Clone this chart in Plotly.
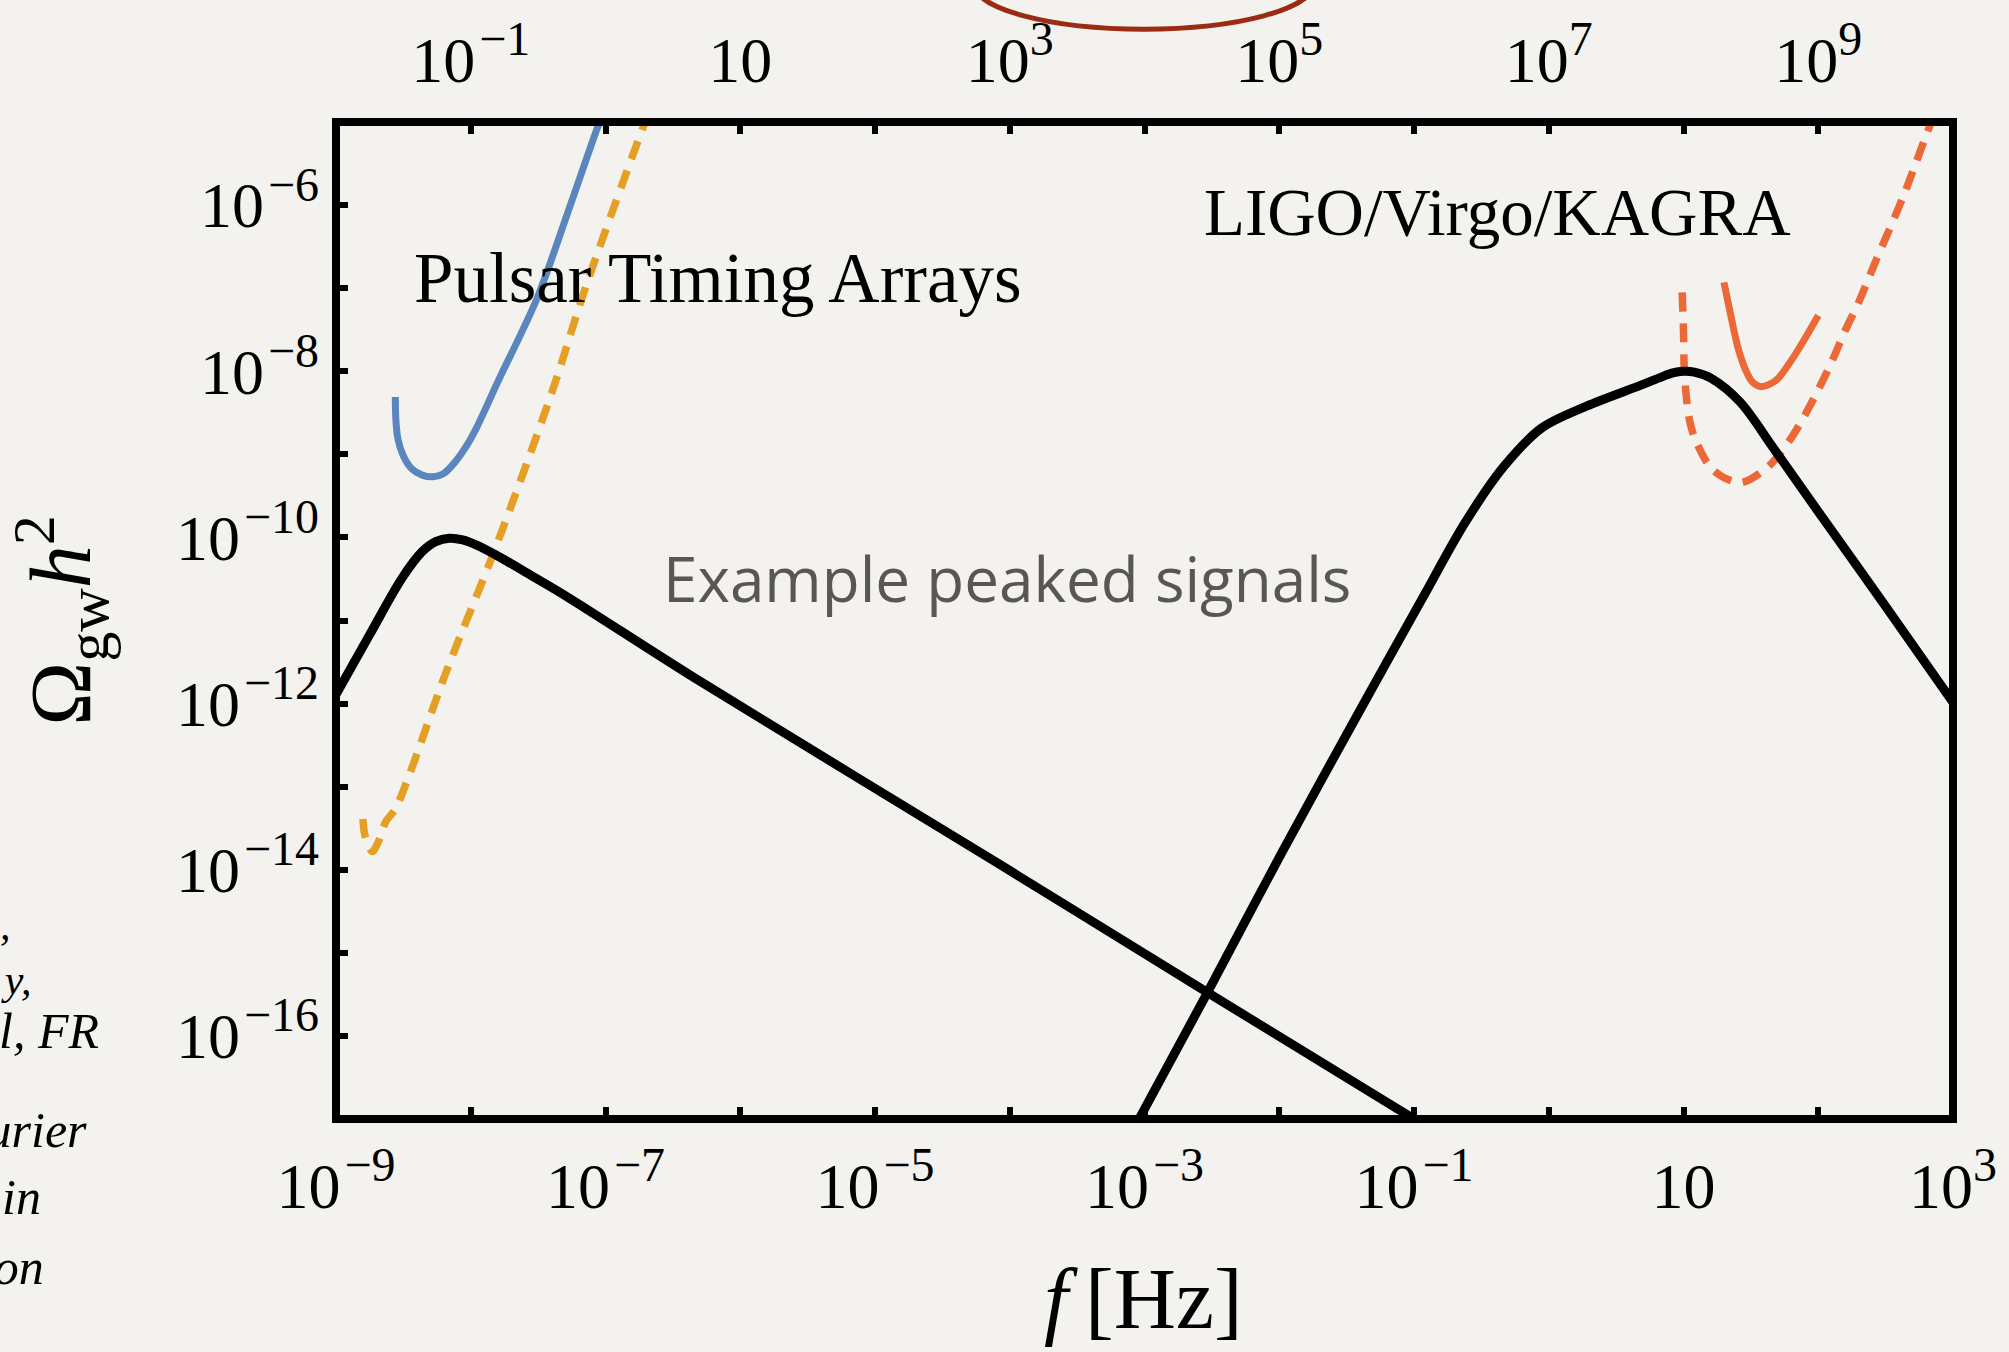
import plotly.graph_objects as go

# ---------------------------------------------------------------
# Curves, stored as log10(f / Hz) and log10(Omega_gw h^2)
# ---------------------------------------------------------------

# low-frequency example peaked signal
sig_lo_logf = [-9.00, -8.75, -8.51, -8.36, -8.26, -8.16, -8.06, -7.96,
               -7.77, -7.55, -7.27, -6.33, -4.08, -2.54, -0.98]
sig_lo_logom = [-11.89, -11.17, -10.49, -10.17, -10.05, -10.01, -10.03, -10.09,
                -10.25, -10.46, -10.73, -11.70, -13.93, -15.47, -17.02]

# high-frequency example peaked signal
sig_hi_logf = [-3.06, -2.54, -1.98, -1.37, -0.94, -0.62, -0.33, -0.05, 0.28, 0.68,
               0.82, 0.92, 1.00, 1.08, 1.20, 1.42, 1.67, 2.00, 2.50, 3.02]
sig_hi_logom = [-17.06, -15.50, -13.79, -11.99, -10.74, -9.82, -9.14, -8.68, -8.42, -8.17,
                -8.08, -8.02, -8.00, -8.01, -8.08, -8.37, -8.93, -9.69, -10.83, -12.03]

# pulsar timing arrays: current sensitivity (solid)
pta_logf = [-8.56, -8.555, -8.54, -8.50, -8.44, -8.36, -8.28, -8.20, -8.12,
            -8.04, -7.96, -7.80, -7.51, -7.28, -7.06, -7.03]
pta_logom = [-8.31, -8.60, -8.82, -9.02, -9.17, -9.25, -9.27, -9.23, -9.10,
             -8.92, -8.69, -8.13, -7.13, -6.09, -5.07, -4.95]

# pulsar timing arrays: future reach (dashed)
pta_future_logf = [-8.80, -8.79, -8.76, -8.73, -8.69, -8.63, -8.56, -8.47,
                   -8.185, -7.815, -7.395, -7.15, -6.72, -6.68]
pta_future_logom = [-13.39, -13.55, -13.72, -13.78, -13.68, -13.42, -13.27, -12.92,
                    -11.63, -10.12, -8.24, -7.00, -5.06, -4.90]

# LIGO/Virgo/KAGRA: current sensitivity (solid)
lvk_logf = [1.30, 1.35, 1.40, 1.44, 1.474, 1.511, 1.573, 1.647, 1.70, 1.84, 2.00]
lvk_logom = [-6.93, -7.32, -7.69, -7.90, -8.03, -8.13, -8.185, -8.15, -8.09, -7.77, -7.33]

# LIGO/Virgo/KAGRA: design sensitivity (dashed)
lvk_design_logf = [0.99, 1.00, 1.005, 1.02, 1.05, 1.10, 1.22, 1.42, 1.62, 1.78,
                   1.90, 2.01, 2.11, 2.20, 2.30, 2.42, 2.63, 2.81, 2.86]
lvk_design_logom = [-7.05, -7.51, -7.95, -8.29, -8.63, -8.87, -9.19, -9.34, -9.16, -8.85,
                    -8.53, -8.19, -7.85, -7.51, -7.17, -6.70, -5.90, -5.12, -4.92]

# axis decades
f_decades = list(range(-9, 4))          # bottom axis, Hz
top_decades = list(range(-2, 11))       # top axis
om_decades = list(range(-17, -4))       # vertical axis

# ---------------------------------------------------------------
W, H = 2009, 1352
L, R, T, B = 336, 1955.5, 121, 1119.5
PW, PH = R - L, B - T

BG = "#f3f2ee"
SERIF = "Liberation Serif"
SUP_STYLE = "font-size:48px"


def px(xp):
    return (xp - L) / PW


def py(yp):
    return (B - yp) / PH


def pow10(vals):
    return [10.0 ** v for v in vals]


def dec_label(k):
    if k == 1:
        return "10"
    if k < 0:
        exp = "\u200a\u2212%d" % (-k)
    else:
        exp = "%d" % k
    return '10<sup><span style="%s">%s</span></sup>' % (SUP_STYLE, exp)


fig = go.Figure()


def add_curve(lf, lo, color, width, dash="solid", xaxis="x"):
    fig.add_trace(go.Scatter(
        x=pow10(lf), y=pow10(lo), mode="lines", xaxis=xaxis,
        line=dict(color=color, width=width, dash=dash,
                  shape="spline", smoothing=0.9),
        hoverinfo="skip", showlegend=False))


DASH = "19px,12px"
add_curve(pta_future_logf, pta_future_logom, "#e59f25", 7.5, DASH)
add_curve(pta_logf, pta_logom, "#5b86bd", 7)
add_curve(lvk_design_logf, lvk_design_logom, "#ec6837", 7.5, DASH)
add_curve(lvk_logf, lvk_logom, "#ec6837", 7)
add_curve(sig_lo_logf, sig_lo_logom, "#000000", 9)
add_curve(sig_hi_logf, sig_hi_logom, "#000000", 9)

tickfont = dict(family=SERIF, size=64, color="black")
axis_common = dict(type="log", showgrid=False, zeroline=False, showline=False,
                   ticks="inside", ticklen=12, tickwidth=6, tickcolor="black",
                   tickfont=tickfont, fixedrange=True)

fig.update_layout(
    width=W, height=H,
    margin=dict(l=L, r=W - R, t=T, b=H - B, pad=0),
    paper_bgcolor=BG, plot_bgcolor=BG,
    showlegend=False,
    xaxis=dict(axis_common, range=[-9, 3], side="bottom",
               tickvals=pow10(f_decades),
               ticktext=[dec_label(k) if k % 2 else "" for k in f_decades],
               ticklabelstandoff=24),
    xaxis2=dict(axis_common, range=[-2, 10], side="top", overlaying="x",
                anchor="y",
                tickvals=pow10(top_decades),
                ticktext=[dec_label(k) if k % 2 else "" for k in top_decades],
                ticklabelstandoff=26),
    yaxis=dict(axis_common, range=[-17, -5], side="left",
               tickvals=pow10(om_decades),
               ticktext=[dec_label(k) if k % 2 == 0 else "" for k in om_decades],
               ticklabelstandoff=16),
)

# keeps the top axis drawn
fig.add_trace(go.Scatter(x=[], y=[], xaxis="x2", showlegend=False, hoverinfo="skip"))

# plot frame
fig.add_shape(type="rect", xref="paper", yref="paper", x0=0, x1=1, y0=0, y1=1,
              line=dict(color="black", width=8), layer="above")

# hand-drawn highlight ring above the top axis
fig.add_shape(type="circle", xref="paper", yref="paper",
              x0=px(975), x1=px(1315), y0=py(28), y1=py(-63),
              line=dict(color="#9b2b12", width=5), layer="above")

ann = []


def text(x, y, s, size, family=SERIF, color="black", xanchor="left",
         yanchor="middle", angle=0, align="center"):
    ann.append(dict(x=px(x), y=py(y), xref="paper", yref="paper", text=s,
                    showarrow=False, xanchor=xanchor, yanchor=yanchor,
                    textangle=angle, align=align,
                    font=dict(family=family, size=size, color=color)))


text(412, 277, "Pulsar Timing Arrays", 71)
text(1203, 211, "LIGO/Virgo/KAGRA", 67)
text(662, 578, "Example peaked signals", 62, family="Open Sans", color="#595754")

# axis titles
text(1145, 1300, "<i>f</i>\u2009[Hz]", 86, xanchor="center")
text(60, 620, "\u03a9<sub>gw</sub><i>h</i><sup>2</sup>", 86, xanchor="center", angle=-90)

# neighbouring slide text, running off the left edge
text(34, 953, "<i>,\u00a0\u00a0<br>y,</i>", 42, xanchor="right", align="right")
text(101, 1031, "<i>al, FR</i>", 50, xanchor="right")
text(89, 1131, "<i>Fourier</i>", 50, xanchor="right")
text(43, 1198, "<i>in</i>", 50, xanchor="right")
text(46, 1268, "<i>tion</i>", 50, xanchor="right")

fig.update_layout(annotations=ann)

fig.write_html("out.html")
